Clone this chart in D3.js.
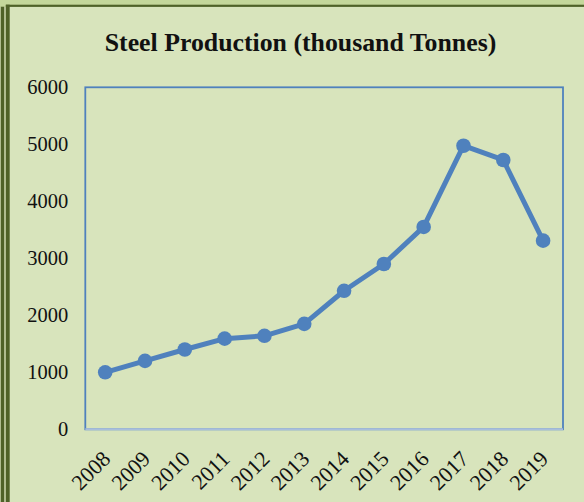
<!DOCTYPE html>
<html><head><meta charset="utf-8">
<script src="https://cdn.jsdelivr.net/npm/d3@7"></script>
<style>body{margin:0;background:#d8e4bc}svg{display:block}</style>
</head><body>
<script>
const years = ["2008","2009","2010","2011","2012","2013","2014","2015","2016","2017","2018","2019"];
const production = [1000,1200,1400,1590,1640,1850,2430,2900,3550,4975,4725,3310];
const yTicks = [0,1000,2000,3000,4000,5000,6000];
const title = "Steel Production (thousand Tonnes)";

const W=584,H=502;
const svg=d3.select("body").append("svg").attr("width",W).attr("height",H);
svg.append("rect").attr("width",W).attr("height",H).attr("fill","#d8e4bc");
// frame
svg.append("rect").attr("x",0).attr("y",0).attr("width",W).attr("height",5).attr("fill","#c4d79b");
svg.append("rect").attr("x",0).attr("y",0).attr("width",6).attr("height",7).attr("fill","#c4d79b");
svg.append("rect").attr("x",6).attr("y",4.7).attr("width",W-6).attr("height",2.2).attr("fill","#4f6228");
svg.append("rect").attr("x",0.7).attr("y",6.7).attr("width",3.6).attr("height",H).attr("fill","#4f6228");
svg.append("rect").attr("x",5.7).attr("y",4.7).attr("width",4).attr("height",H).attr("fill","#4f6228");

const L=85.3,R=563,T=87.3,B=429.3;
const x=d3.scaleBand().domain(years).range([L,R]);
const y=d3.scaleLinear().domain([0,6000]).range([B,T]);
const serif="Liberation Serif, Times New Roman, serif";

svg.append("text").attr("x",300.5).attr("y",51).attr("text-anchor","middle")
  .attr("font-family",serif).attr("font-weight","bold")
  .attr("font-size",25.8).attr("fill","#111").text(title);

svg.append("rect").attr("x",L).attr("y",T).attr("width",R-L).attr("height",B-T)
  .attr("fill","none").attr("stroke","#4f81bd").attr("stroke-width",1.8);
svg.append("line").attr("x1",L).attr("x2",R).attr("y1",B).attr("y2",B)
  .attr("stroke","#a9bedc").attr("stroke-width",2);

const ya=svg.append("g").attr("transform",`translate(${L},0)`)
  .call(d3.axisLeft(y).tickValues(yTicks).tickSize(0).tickPadding(17).tickFormat(d3.format("d")));
ya.select(".domain").remove();
ya.selectAll("text").attr("font-family",serif).attr("font-size",20.5).attr("fill","#111");

const xa=svg.append("g").attr("transform",`translate(0,${B})`)
  .call(d3.axisBottom(x).tickSize(0).tickPadding(0));
xa.select(".domain").remove();
xa.selectAll("text").attr("font-family",serif).attr("font-size",22).attr("fill","#111")
  .attr("text-anchor","end").attr("dy",0).attr("y",0)
  .attr("transform","translate(6.5,31) rotate(-45)");

const line=d3.line().x((d,i)=>x(years[i])+x.bandwidth()/2).y(d=>y(d));
svg.append("path").datum(production).attr("d",line).attr("fill","none")
  .attr("stroke","#4f81bd").attr("stroke-width",5).attr("stroke-linejoin","round");
svg.selectAll("circle.pt").data(production).enter().append("circle").attr("class","pt")
  .attr("cx",(d,i)=>x(years[i])+x.bandwidth()/2).attr("cy",d=>y(d)).attr("r",7.3).attr("fill","#4f81bd");
</script>
</body></html>
